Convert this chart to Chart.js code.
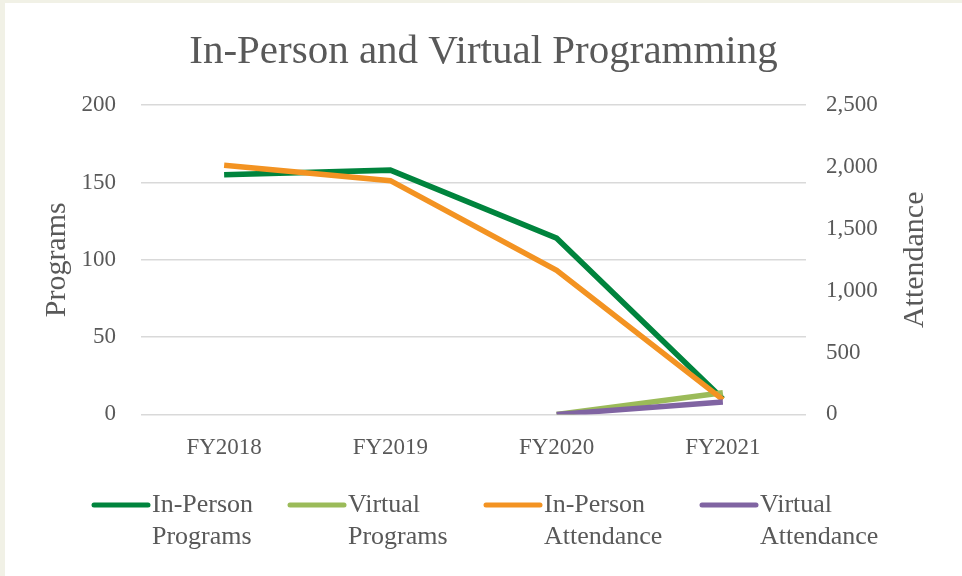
<!DOCTYPE html>
<html>
<head>
<meta charset="utf-8">
<script src="https://cdn.jsdelivr.net/npm/chart.js@4"></script>
<style>
  body { margin: 0; background: #f1f1e6; }
  #wrap { position: absolute; left: 5px; top: 3px; width: 957px; height: 573px; background: #fff; }
</style>
</head>
<body>
<div id="wrap"><canvas id="chart" width="957" height="573"></canvas></div>
<script>
const years = ["FY2018", "FY2019", "FY2020", "FY2021"];
const inPersonPrograms = [155, 158, 114, 10];
const virtualPrograms = [null, null, 0, 14];
const inPersonAttendance = [2015, 1890, 1165, 120];
const virtualAttendance = [null, null, 0, 100];

const textColor = "#595959";
const serif = "'Liberation Serif', 'Times New Roman', serif";

// legend is drawn by hand so the labels can wrap onto two lines like the original
const legendX = [87, 283, 479, 695];
const wrappedLegend = {
  id: "wrappedLegend",
  afterDraw(chart) {
    const ctx = chart.ctx;
    ctx.save();
    chart.data.datasets.forEach((ds, i) => {
      const x = legendX[i];
      const y = 502;
      ctx.strokeStyle = ds.borderColor;
      ctx.lineWidth = 5;
      ctx.lineCap = "round";
      ctx.beginPath();
      ctx.moveTo(x + 2, y);
      ctx.lineTo(x + 56, y);
      ctx.stroke();
      const sp = ds.label.indexOf(" ");
      const lines = [ds.label.slice(0, sp), ds.label.slice(sp + 1)];
      ctx.fillStyle = textColor;
      ctx.font = "26px " + serif;
      ctx.textBaseline = "middle";
      ctx.textAlign = "left";
      ctx.fillText(lines[0], x + 60, y);
      ctx.fillText(lines[1], x + 60, y + 32);
    });

    // right axis title reads bottom-to-top, which chart.js won't do on the right side
    const area = chart.chartArea;
    ctx.translate(910, (area.top + area.bottom) / 2);
    ctx.rotate(-Math.PI / 2);
    ctx.font = "30px " + serif;
    ctx.textAlign = "center";
    ctx.textBaseline = "middle";
    ctx.fillText("Attendance", 0, 0);
    ctx.restore();
  },
};

new Chart(document.getElementById("chart").getContext("2d"), {
  type: "line",
  data: {
    labels: years,
    datasets: [
      {
        label: "In-Person Programs",
        data: inPersonPrograms,
        borderColor: "#00843d",
        yAxisID: "y",
        order: 3,
      },
      {
        label: "Virtual Programs",
        data: virtualPrograms,
        borderColor: "#9bbb59",
        yAxisID: "y",
        order: 2,
      },
      {
        label: "In-Person Attendance",
        data: inPersonAttendance,
        borderColor: "#f39322",
        yAxisID: "y1",
        order: 1,
      },
      {
        label: "Virtual Attendance",
        data: virtualAttendance,
        borderColor: "#8064a2",
        yAxisID: "y1",
        order: 0,
      },
    ],
  },
  options: {
    responsive: false,
    animation: false,
    layout: {
      padding: { left: 0, right: 0, top: 0, bottom: 94 },
    },
    elements: {
      line: { borderWidth: 5.5, tension: 0, fill: false },
      point: { radius: 0, hoverRadius: 0 },
    },
    plugins: {
      legend: { display: false },
      tooltip: { enabled: false },
      title: {
        display: true,
        text: "In-Person and Virtual Programming",
        color: textColor,
        font: { family: serif, size: 41, weight: "normal" },
        padding: { top: 25, bottom: 28 },
      },
    },
    scales: {
      x: {
        offset: true,
        grid: { display: false, drawTicks: false },
        border: { display: false },
        ticks: {
          color: textColor,
          font: { family: serif, size: 23 },
          padding: 20,
        },
      },
      y: {
        position: "left",
        min: 0,
        max: 200,
        ticks: {
          stepSize: 50,
          color: textColor,
          font: { family: serif, size: 23 },
          padding: 25,
        },
        grid: { color: "#d9d9d9", lineWidth: 1.5, drawTicks: false },
        border: { display: false },
        title: {
          display: true,
          text: "Programs",
          color: textColor,
          font: { family: serif, size: 30 },
          padding: { top: 34, bottom: 0 },
        },
        afterFit: (scale) => {
          scale.width = 136;
        },
      },
      y1: {
        position: "right",
        min: 0,
        max: 2500,
        ticks: {
          stepSize: 500,
          color: textColor,
          font: { family: serif, size: 23 },
          padding: 20,
        },
        grid: { display: false, drawTicks: false },
        border: { display: false },
        afterFit: (scale) => {
          scale.width = 156;
        },
      },
    },
  },
  plugins: [wrappedLegend],
});
</script>
</body>
</html>
